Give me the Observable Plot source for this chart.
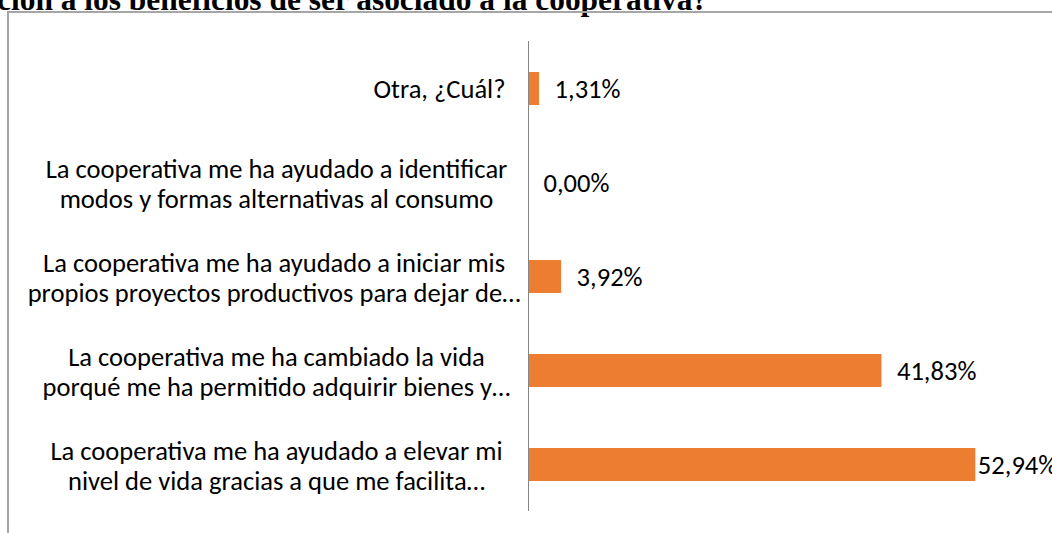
<!DOCTYPE html>
<html>
<head>
<meta charset="utf-8">
<script src="https://cdn.jsdelivr.net/npm/d3@7"></script>
<script src="https://cdn.jsdelivr.net/npm/@observablehq/plot@0.6"></script>
<style>
  body { margin: 0; background: #fff; }
  #wrap { position: relative; width: 1052px; height: 533px; overflow: hidden; background: #fff; }
  #frame { position: absolute; left: 7px; top: 11px; width: 1100px; height: 600px;
           border-left: 2px solid #a6a6a6; border-top: 2px solid #a6a6a6; }
  #titlebox { position: absolute; left: 0; top: 0; }
  #chart { position: absolute; left: 0; top: 0; }
</style>
</head>
<body>
<div id="wrap">
  <svg id="titlebox" width="1052" height="20"><text id="title" x="-3" y="10"></text></svg>
  <div id="frame"></div>
  <div id="chart"></div>
</div>
<script>
// ---- data ----
const titleText = "ción a los beneficios de ser asociado a la cooperativa?";
const categories = [
  "Otra, ¿Cuál?",
  "La cooperativa me ha ayudado a identificar\nmodos y formas alternativas al consumo",
  "La cooperativa me ha ayudado a iniciar mis\npropios proyectos productivos para dejar de…",
  "La cooperativa me ha cambiado la vida\nporqué me ha permitido adquirir bienes y…",
  "La cooperativa me ha ayudado a elevar mi\nnivel de vida gracias a que me facilita…"
];
const values = [1.31, 0.00, 3.92, 41.83, 52.94];
const valueLabels = ["1,31%", "0,00%", "3,92%", "41,83%", "52,94%"];

const data = categories.map((c, i) => ({cat: c, value: values[i], label: valueLabels[i]}));

// ---- font fitting ----
const FONT = "Carlito, Lato, sans-serif";
const SERIF = "'Liberation Serif', 'Times New Roman', serif";
const ctx = document.createElement("canvas").getContext("2d");
function tw(text, size, family, weight = "normal") {
  ctx.font = `${weight} ${size}px ${family}`;
  return ctx.measureText(text).width;
}
const fs = 24 * 462 / tw("La cooperativa me ha ayudado a identificar", 24, FONT);
const tfs = 20 * 712 / tw(titleText, 20, SERIF, "bold");

const t = document.getElementById("title");
t.textContent = titleText;
t.setAttribute("font-family", SERIF);
t.setAttribute("font-weight", "bold");
t.setAttribute("font-size", tfs);
t.setAttribute("fill", "#000");

// ---- category label marks ----
const axisX = 528;
const labelMarks = data.map(d => {
  const lines = d.cat.split("\n");
  if (lines.length === 1) {
    return Plot.text([d], {x: 0, y: "cat", text: "cat", textAnchor: "end", dx: -23,
      fontSize: fs, fill: "#000"});
  }
  const maxW = Math.max(...lines.map(l => tw(l, fs, FONT)));
  const center = Math.min(276, axisX - 8 - maxW / 2);
  return Plot.text([d], {x: 0, y: "cat", text: "cat", textAnchor: "middle",
    dx: center - axisX, lineHeight: 30 / fs, fontSize: fs, fill: "#000"});
});

const maxX = 60;
const chart = Plot.plot({
  width: 1052,
  height: 533,
  marginLeft: axisX,
  marginRight: 1052 - axisX - 8.45 * maxX,
  marginTop: 41,
  marginBottom: 22,
  style: {fontFamily: FONT, background: "transparent", overflow: "visible"},
  x: {domain: [0, maxX], axis: null},
  y: {domain: categories, axis: null, paddingInner: 0.65, paddingOuter: 0.325},
  marks: [
    Plot.barX(data, {x: "value", y: "cat", fill: "#ED7D31"}),
    Plot.ruleX([0], {stroke: "#868686", strokeWidth: 1}),
    Plot.text(data.filter(d => d.value < 50), {x: "value", y: "cat", text: "label",
      textAnchor: "start", dx: 15, fontSize: fs, fill: "#000"}),
    Plot.text(data.filter(d => d.value >= 50), {x: "value", y: "cat", text: "label",
      textAnchor: "start", dx: 2, fontSize: fs, fill: "#000"}),
    ...labelMarks
  ]
});
document.getElementById("chart").appendChild(chart);
</script>
</body>
</html>
